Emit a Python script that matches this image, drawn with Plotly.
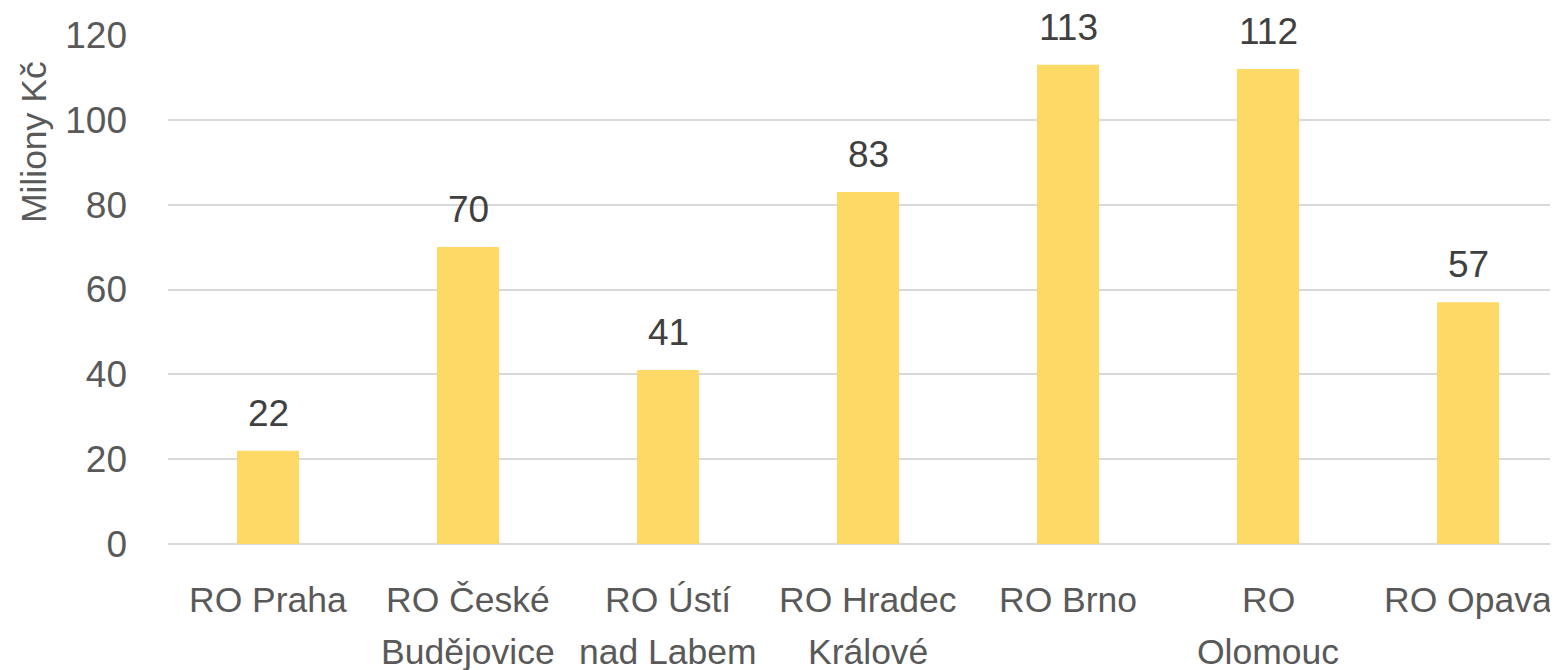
import plotly.graph_objects as go

categories = ["RO Praha", "RO České Budějovice", "RO Ústí nad Labem", "RO Hradec Králové",
              "RO Brno", "RO Olomouc", "RO Opava"]
label_lines = [["RO Praha"], ["RO České", "Budějovice"], ["RO Ústí", "nad Labem"],
               ["RO Hradec", "Králové"], ["RO Brno"], ["RO", "Olomouc"], ["RO Opava"]]
values = [22, 70, 41, 83, 113, 112, 57]
y_ticks = [0, 20, 40, 60, 80, 100, 120]

FONT = "Liberation Sans"
FS = 37
FS_X = 35.5
BAR = "#FED966"

x = list(range(len(categories)))
fig = go.Figure(go.Bar(x=x, y=values, width=0.31, marker=dict(color=BAR, line=dict(width=0)),
                       hoverinfo="skip"))

ann = []
for i, v in enumerate(values):
    ann.append(dict(x=i, y=v, xref="x", yref="y", text=str(v), showarrow=False,
                    yanchor="bottom", yshift=15, font=dict(family=FONT, size=FS, color="#404040")))
for i, lines in enumerate(label_lines):
    for j, t in enumerate(lines):
        ann.append(dict(x=i, y=-0.110 - 0.102 * j, xref="x", yref="paper", text=t, showarrow=False,
                        yanchor="middle", font=dict(family=FONT, size=FS_X, color="#595959")))
ann.append(dict(x=-0.0957, y=0.79, xref="paper", yref="paper", text="Miliony Kč", textangle=-90,
                showarrow=False, xanchor="center", yanchor="middle",
                font=dict(family=FONT, size=FS_X, color="#595959")))

fig.update_layout(
    width=1558, height=670,
    margin=dict(l=160, r=0, t=27, b=134),
    paper_bgcolor="white", plot_bgcolor="white",
    showlegend=False,
    annotations=ann,
    xaxis=dict(range=[-0.5, 6.49], showticklabels=False, showgrid=False, zeroline=False,
               showline=False, ticks="", fixedrange=True),
    yaxis=dict(range=[0, 120], tickvals=y_ticks, showgrid=True, gridcolor="#D9D9D9", gridwidth=1.5,
               zeroline=True, zerolinecolor="#D9D9D9", zerolinewidth=1.5, showline=False,
               ticks="", ticklabelstandoff=40,
               tickfont=dict(family=FONT, size=FS, color="#595959")),
)
fig.write_html("out.html")
